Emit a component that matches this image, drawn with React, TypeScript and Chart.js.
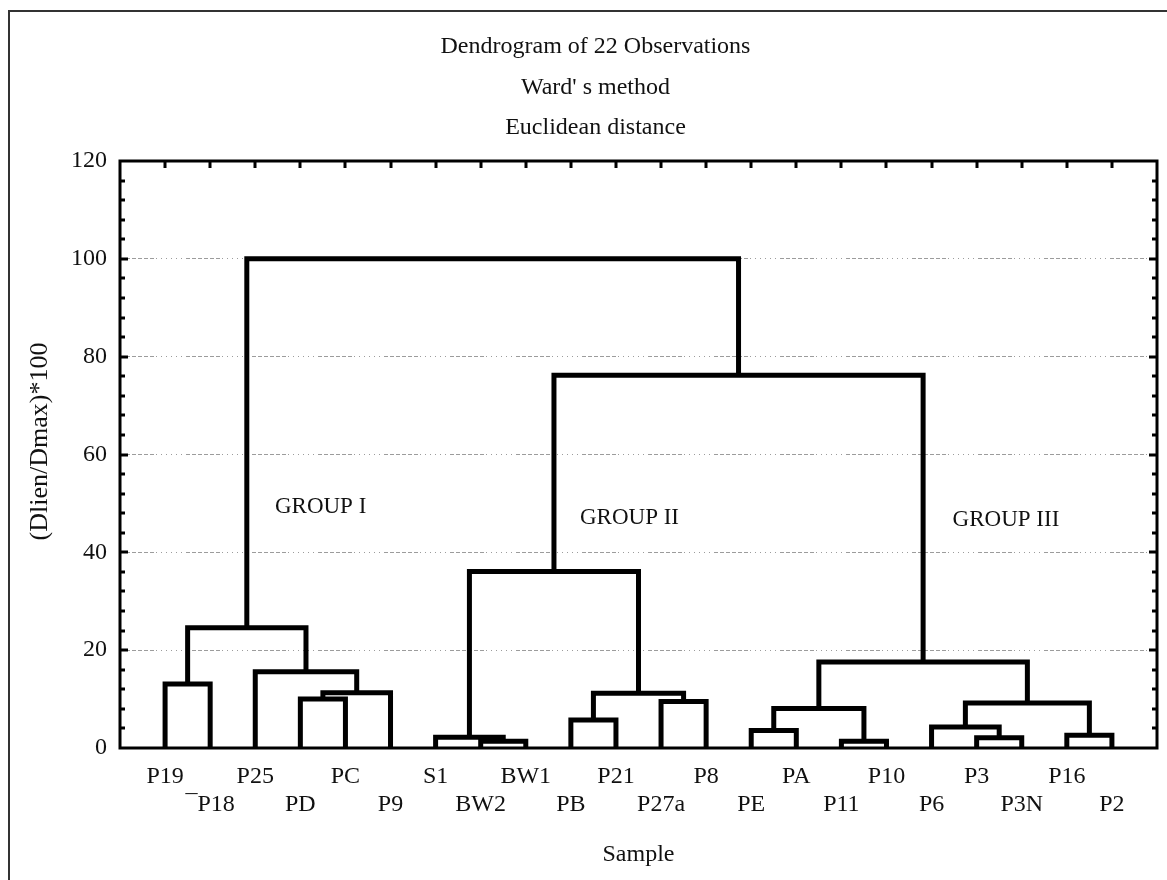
import React, { useEffect, useRef } from 'react';
import { Chart, registerables } from 'chart.js';

Chart.register(...registerables);

const SERIF = "'Liberation Serif', 'Times New Roman', serif";

// Leaf order along the x axis (positions 1..22)
const leafLabels = [
  'P19', '¯P18', 'P25', 'PD', 'PC', 'P9', 'S1', 'BW2', 'BW1', 'PB', 'P21',
  'P27a', 'P8', 'PE', 'PA', 'P11', 'P10', 'P6', 'P3', 'P3N', 'P16', 'P2',
];

// Linkage: indices < 22 are leaves, index 22 + k is the cluster made by merge k
const mergeLeft = [7, 15, 6, 18, 20, 13, 17, 9, 27, 28, 11, 3, 33, 29, 0, 2, 30, 36, 24, 40, 39];
const mergeRight = [8, 16, 22, 19, 21, 14, 25, 10, 23, 26, 12, 4, 5, 32, 1, 34, 31, 37, 35, 38, 41];
const mergeHeight = [1.4, 1.4, 2.2, 2.1, 2.6, 3.6, 4.3, 5.7, 8.1, 9.2, 9.5, 10.0, 11.3, 11.2, 13.1, 15.6, 17.6, 24.6, 36.1, 76.2, 100];

const yTicks = [0, 20, 40, 60, 80, 100, 120];

const titleLines = ['Dendrogram of 22 Observations', "Ward' s method", 'Euclidean distance'];
const yTitle = '    (Dlien/Dmax)*100';
const xTitle = 'Sample';

const groupNames = ['GROUP I', 'GROUP II', 'GROUP III'];
const groupX = [4.45, 11.3, 19.65];
const groupY = [49.2, 47.1, 46.7];

function buildDatasets() {
  const n = leafLabels.length;
  const xs: number[] = leafLabels.map((_, i) => i + 1);
  const hs: number[] = leafLabels.map(() => 0);
  const sets: any[] = [];
  for (let k = 0; k < mergeHeight.length; k++) {
    const a = mergeLeft[k];
    const b = mergeRight[k];
    const h = mergeHeight[k];
    sets.push({
      data: [
        { x: xs[a], y: hs[a] },
        { x: xs[a], y: h },
        { x: xs[b], y: h },
        { x: xs[b], y: hs[b] },
      ],
      borderColor: '#000',
      borderWidth: 5,
      borderJoinStyle: 'miter',
      borderCapStyle: 'butt',
      pointRadius: 0,
      tension: 0,
      fill: false,
    });
    xs[n + k] = (xs[a] + xs[b]) / 2;
    hs[n + k] = h;
  }
  return sets;
}

const framePlugin = {
  id: 'frame',
  beforeDraw(chart: any) {
    const { ctx, width, height } = chart;
    ctx.save();
    ctx.fillStyle = '#fff';
    ctx.fillRect(0, 0, width, height);
    ctx.strokeStyle = '#333';
    ctx.lineWidth = 2;
    ctx.beginPath();
    ctx.moveTo(9, height);
    ctx.lineTo(9, 11);
    ctx.lineTo(width, 11);
    ctx.stroke();
    ctx.restore();
  },
  afterDatasetsDraw(chart: any) {
    const { ctx, chartArea, scales } = chart;
    const { left, right, top, bottom } = chartArea;
    const xs = scales.x;
    const ys = scales.y;
    ctx.save();
    ctx.strokeStyle = '#000';
    ctx.lineWidth = 3;
    ctx.strokeRect(left, top, right - left, bottom - top);
    ctx.beginPath();
    for (let i = 1; i <= leafLabels.length; i++) {
      const px = Math.round(xs.getPixelForValue(i));
      ctx.moveTo(px, top);
      ctx.lineTo(px, top + 7);
    }
    const yMax = yTicks[yTicks.length - 1];
    for (let v = 4; v < yMax; v += 4) {
      const py = Math.round(ys.getPixelForValue(v));
      const len = v % 20 === 0 ? 8 : 5;
      ctx.moveTo(left, py);
      ctx.lineTo(left + len, py);
      ctx.moveTo(right, py);
      ctx.lineTo(right - len, py);
    }
    ctx.stroke();

    ctx.fillStyle = '#111';
    ctx.font = `23px ${SERIF}`;
    ctx.textAlign = 'center';
    ctx.textBaseline = 'middle';
    for (let g = 0; g < groupNames.length; g++) {
      ctx.fillText(groupNames[g], xs.getPixelForValue(groupX[g]), ys.getPixelForValue(groupY[g]));
    }
    ctx.restore();
  },
};

export default function App() {
  const ref = useRef<HTMLCanvasElement | null>(null);

  useEffect(() => {
    const canvas = ref.current;
    if (!canvas) return;
    const gridDash = [4, 2, 4, 2, 4, 2, 4, 2, 4, 2, 4, 2, 1, 4, 1, 4, 1, 4, 1, 4, 1, 4, 1, 4];
    const chart = new Chart(canvas, {
      type: 'line',
      data: { datasets: buildDatasets() },
      plugins: [framePlugin],
      options: {
        animation: false,
        responsive: false,
        devicePixelRatio: 1,
        layout: { padding: { left: 34, right: 10, top: 0, bottom: 0 } },
        plugins: {
          legend: { display: false },
          tooltip: { enabled: false },
          title: {
            display: true,
            text: titleLines,
            color: '#111',
            font: { family: SERIF, size: 24, weight: 'normal', lineHeight: 40.5 / 24 },
            padding: { top: 26.75, bottom: 12.75 },
          },
        },
        scales: {
          x: {
            type: 'linear',
            position: 'bottom',
            min: 0,
            max: leafLabels.length + 1,
            afterFit: (s: any) => { s.height = 132; s.paddingLeft = 0; s.paddingRight = 0; },
            grid: { display: false, drawTicks: false },
            border: { display: false },
            ticks: {
              stepSize: 1,
              autoSkip: false,
              maxRotation: 0,
              minRotation: 0,
              padding: 15,
              color: '#111',
              font: { family: SERIF, size: 24, lineHeight: 28 / 24 },
              callback: (value: any) => {
                const i = Math.round(Number(value));
                if (i < 1 || i > leafLabels.length) return '';
                return i % 2 === 1 ? [leafLabels[i - 1], ''] : ['', leafLabels[i - 1]];
              },
            },
            title: {
              display: true,
              text: xTitle,
              color: '#111',
              font: { family: SERIF, size: 24 },
              padding: { top: 0, bottom: 10.6 },
            },
          },
          y: {
            type: 'linear',
            position: 'left',
            min: yTicks[0],
            max: yTicks[yTicks.length - 1],
            afterFit: (s: any) => { s.width = 86; },
            afterBuildTicks: (s: any) => { s.ticks = yTicks.map((v) => ({ value: v })); },
            grid: {
              drawTicks: false,
              lineWidth: 1,
              color: (c: any) => {
                const v = c.tick ? c.tick.value : 0;
                return v === yTicks[0] || v === yTicks[yTicks.length - 1] ? 'rgba(0,0,0,0)' : '#9c9c9c';
              },
            },
            border: { display: false, dash: gridDash },
            ticks: {
              padding: 13,
              color: '#111',
              font: { family: SERIF, size: 24 },
            },
            title: {
              display: true,
              text: yTitle,
              color: '#111',
              font: { family: SERIF, size: 26 },
              padding: { top: -9.6, bottom: 0 },
            },
          },
        },
      } as any,
    });
    return () => chart.destroy();
  }, []);

  return (
    <div style={{ position: 'fixed', left: 0, top: 0, width: 1167, height: 880, background: '#fff' }}>
      <canvas ref={ref} width={1167} height={880} style={{ display: 'block', width: 1167, height: 880 }} />
    </div>
  );
}
